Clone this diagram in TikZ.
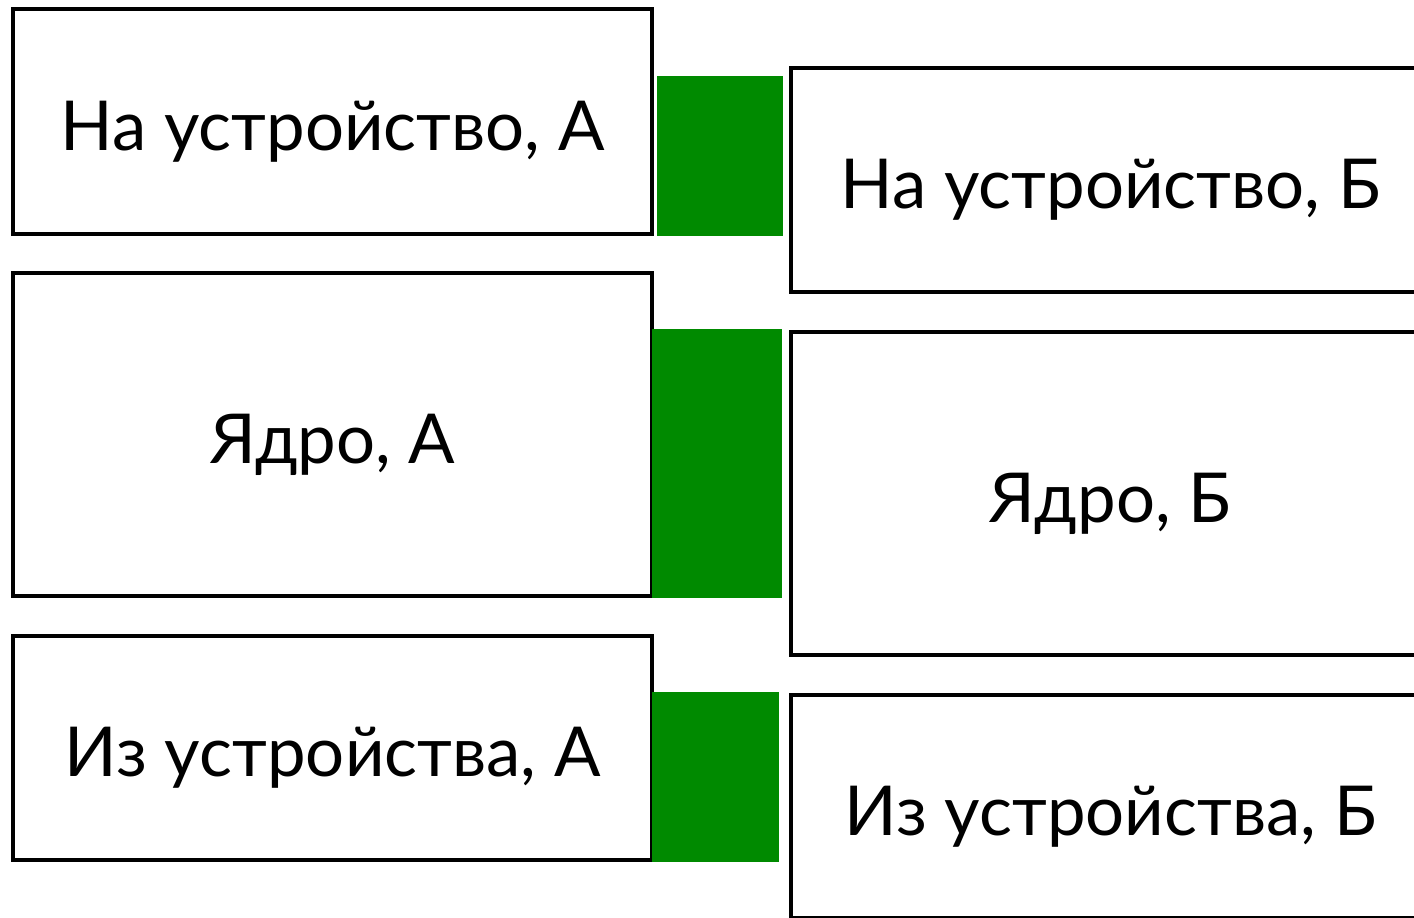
\documentclass[tikz,border=0pt]{standalone}
\usepackage{fontspec}
\setmainfont{Lato}
\definecolor{linkgreen}{RGB}{0,138,0}

\begin{document}
\begin{tikzpicture}[x=0.1mm,y=-0.1mm,
	box/.style={draw,rectangle,line width=1.4pt,inner sep=0pt,
		text height=6.5mm,text depth=0.8mm,
		font=\fontsize{19.6}{24}\selectfont},
	leftbox/.style={box,minimum width=63.9mm},
	rightbox/.style={box,minimum width=63.9mm},
	link/.style={fill=linkgreen}]
	
	\clip (0,0) rectangle (1414,917);
	
	% side A
	\node [leftbox,minimum height=22.5mm] (toA) at (332.5,121.5) {На устройство, А};
	\node [leftbox,minimum height=32.3mm] (coreA) at (332.5,434.5) {Ядро, А};
	\node [leftbox,minimum height=22.4mm] (fromA) at (332.5,748) {Из устройства, А};
	
	% side B
	\node [rightbox,minimum height=22.4mm] (toB) at (1110.5,180) {На устройство, Б};
	\node [rightbox,minimum height=32.3mm] (coreB) at (1110.5,493.5) {Ядро, Б};
	\node [rightbox,minimum height=22.3mm] (fromB) at (1110.5,806.5) {Из устройства, Б};
	
	% links
	\fill [link] (657,76) rectangle (783,236);
	\fill [link] (652,329) rectangle (782,598);
	\fill [link] (652,692) rectangle (779,862);
	
\end{tikzpicture}
\end{document}
